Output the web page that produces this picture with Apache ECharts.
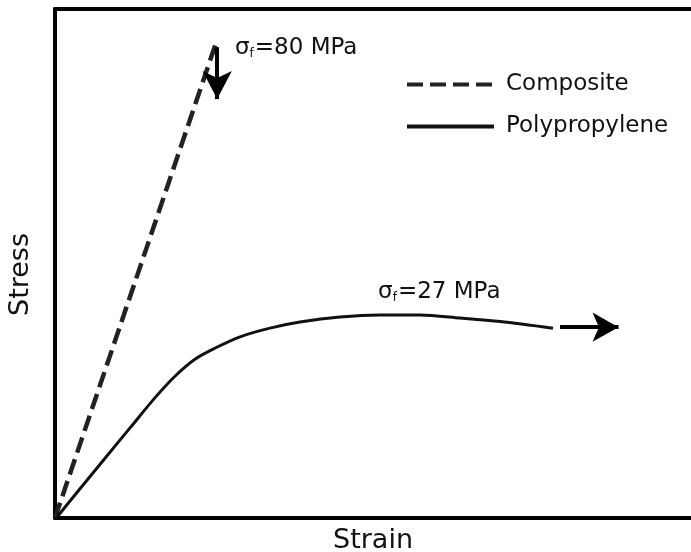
<!DOCTYPE html>
<html>
<head>
<meta charset="utf-8">
<script src="https://cdn.jsdelivr.net/npm/echarts@6/dist/echarts.min.js"></script>
<style>html,body{margin:0;padding:0;background:#fff}#c{width:691px;height:552px}</style>
</head>
<body>
<div id="c"></div>
<script>
// ---- data (arbitrary strain / stress units) ----
var seriesNames = ['Composite', 'Polypropylene'];
var compositeData = [[0.0, 0.0], [25.2, 92.9]];
var polypropyleneData = [
  [0.2, 0.0], [3.9, 5.7], [7.9, 11.8], [11.8, 17.7], [15.7, 23.6], [18.9, 27.9],
  [22.0, 31.2], [25.2, 33.4], [29.1, 35.6], [33.8, 37.3], [38.5, 38.5], [44.8, 39.5],
  [51.1, 39.9], [57.4, 39.9], [63.7, 39.3], [70.0, 38.6], [78.3, 37.3]
];
var compositeFailure = [25.5, 92.5, 82.3];      // x, arrow start y, arrow end y
var ppArrow = [79.4, 88.6, 37.5];               // arrow start x, end x, y
var labelCompositePos = [28.3, 92.3];
var labelPPPos = [50.8, 44.4];
var labelComposite = '80 MPa';
var labelPP = '27 MPa';
var xAxisName = 'Strain';
var yAxisName = 'Stress';

var FONT = 'DejaVu Sans';
var chart = echarts.init(document.getElementById('c'), null, {renderer: 'canvas'});

function sigmaLabel(v) {
  return {
    show: true, position: 'right', distance: 0,
    formatter: '{s|σ}{f|f}{e|=' + v + '}',
    rich: {
      s: {fontFamily: FONT, fontSize: 23, color: '#111'},
      f: {fontFamily: FONT, fontSize: 12, color: '#111', verticalAlign: 'bottom', padding: [11, 1, 0, 0]},
      e: {fontFamily: FONT, fontSize: 23, color: '#111'}
    }
  };
}

var option = {
  animation: false,
  backgroundColor: '#fff',
  grid: {left: 55, right: 0, top: 9, bottom: 34, containLabel: false, outerBoundsMode: 'none'},
  legend: {
    orient: 'vertical', left: 400, top: 68, itemWidth: 87, itemHeight: 16, itemGap: 19,
    itemStyle: {opacity: 0},
    lineStyle: {width: 4},
    textStyle: {fontFamily: FONT, fontSize: 23, color: '#111', padding: [0, 0, 0, 7]},
    data: seriesNames
  },
  xAxis: [{
    type: 'value', min: 0, max: 100, position: 'bottom',
    name: xAxisName, nameLocation: 'middle', nameGap: 9,
    nameTextStyle: {fontFamily: FONT, fontSize: 27, color: '#111', verticalAlign: 'top'},
    axisLine: {show: true, onZero: false, lineStyle: {color: '#000', width: 4}},
    axisTick: {show: false}, axisLabel: {show: false}, splitLine: {show: false}
  }, {
    type: 'value', min: 0, max: 100, position: 'top',
    axisLine: {show: true, onZero: false, lineStyle: {color: '#000', width: 4}},
    axisTick: {show: false}, axisLabel: {show: false}, splitLine: {show: false}
  }],
  yAxis: {
    type: 'value', min: 0, max: 100,
    name: yAxisName, nameLocation: 'middle', nameGap: 21,
    nameTextStyle: {fontFamily: FONT, fontSize: 27, color: '#111', padding: [0, 22, 0, 0]},
    axisLine: {show: true, onZero: false, lineStyle: {color: '#000', width: 4}},
    axisTick: {show: false}, axisLabel: {show: false}, splitLine: {show: false}
  },
  series: [{
    name: seriesNames[0], type: 'line', data: compositeData, symbol: 'none',
    lineStyle: {color: '#222', width: 4.5, type: [16, 7]},
    itemStyle: {color: '#222'},
    markLine: {
      silent: true, symbol: ['none', 'arrow'], symbolSize: [22, 28],
      label: {show: false},
      lineStyle: {color: '#000', width: 4, type: 'solid'},
      data: [[{coord: [compositeFailure[0], compositeFailure[1]]}, {coord: [compositeFailure[0], compositeFailure[2]]}]]
    },
    markPoint: {
      symbol: 'circle', symbolSize: 0, silent: true,
      data: [{coord: labelCompositePos, label: sigmaLabel(labelComposite)}]
    }
  }, {
    name: seriesNames[1], type: 'line', data: polypropyleneData, symbol: 'none',
    smooth: 0.3,
    lineStyle: {color: '#111', width: 3, type: 'solid'},
    itemStyle: {color: '#111'},
    markLine: {
      silent: true, symbol: ['none', 'arrow'], symbolSize: [22, 26],
      label: {show: false},
      lineStyle: {color: '#000', width: 4, type: 'solid'},
      data: [[{coord: [ppArrow[0], ppArrow[2]]}, {coord: [ppArrow[1], ppArrow[2]]}]]
    },
    markPoint: {
      symbol: 'circle', symbolSize: 0, silent: true,
      data: [{coord: labelPPPos, label: sigmaLabel(labelPP)}]
    }
  }]
};
chart.setOption(option);
</script>
</body>
</html>
